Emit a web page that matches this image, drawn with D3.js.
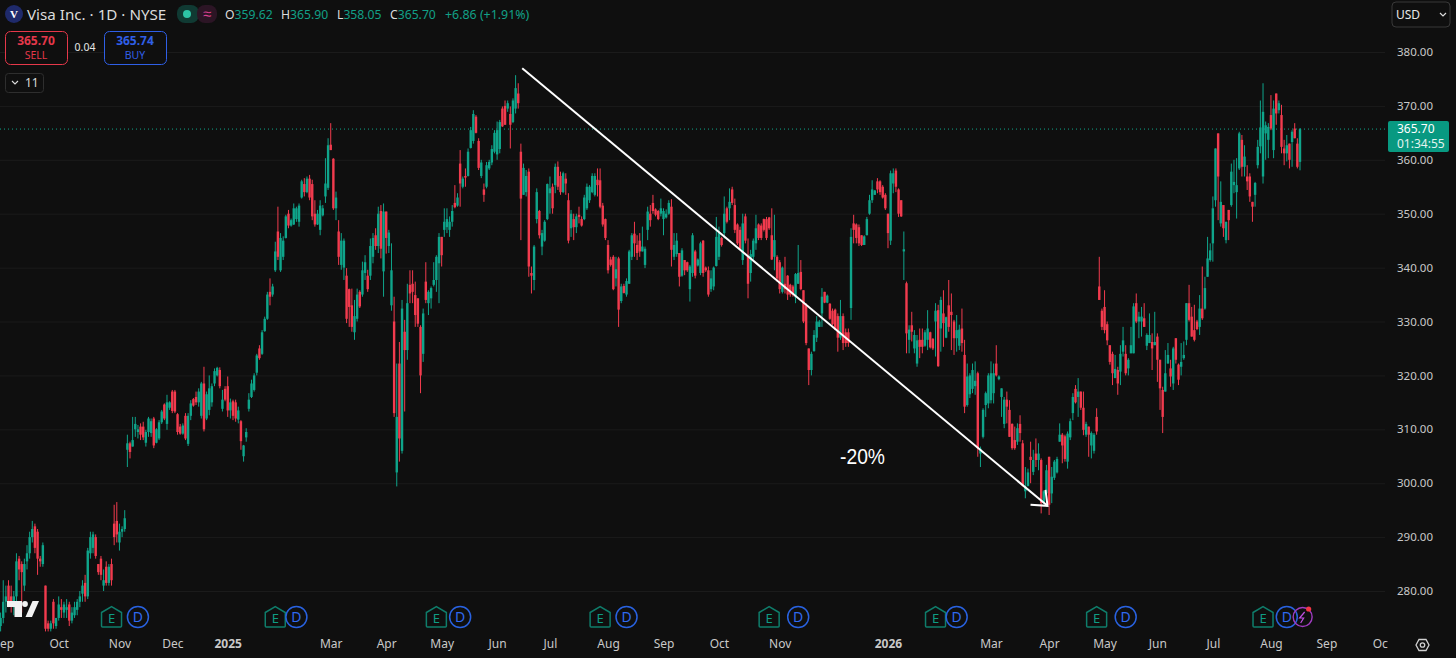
<!DOCTYPE html>
<html>
<head>
<meta charset="utf-8">
<script src="https://cdn.jsdelivr.net/npm/d3@7"></script>
<style>
  html, body { margin: 0; padding: 0; background: #0f0f0f; overflow: hidden; }
  text { font-family: "Noto Sans", sans-serif; }
</style>
</head>
<body>
<div id="d3-container"></div>
<script>
/* CONSTANTS */
const width = 1456, height = 658, plotRight = 1385, plotBottom = 630;
const upColor = "#0fa58b", downColor = "#f23b4e", gridColor = "#1b1b1b", axisText = "#c9c9c9";

/* DATA: daily candles [open, high, low, close], month by month */
const sep24 = [[273.5,276,272.5,275],[275,282,274,278],[278,281,276,279],[281,282,277,278],[279,281,276,277.5],[277,280,275.5,279],[279,287,278,285.5],[286,286.5,282,284],[285,285.5,276,283.5],[281,286,280,285],[285.5,288.5,284,287],[287,291,286,290],[290,293,289,291.5],[292,292.5,287,288],[291,291.5,283,286],[286,286.5,284.5,285.5],[285,289,284.5,288.5],[281,281,272.5,273],[274,274.5,272.5,273],[273,274.5,272.5,274],[278,278.5,273,274],[273.5,275,273,275]];
const oct24 = [[275,279,274.5,277.5],[277,278.5,275,276.5],[276,278,275,277.5],[276.5,278.5,275,277],[277.5,278,273.5,274.5],[274.5,277,274,276],[275.5,278,275,277],[276.5,278.5,275.5,278],[278,280,277,279],[279.5,282,278,281],[281.5,283,278,279],[279,288,278.5,287.5],[287,291,286,290],[288,291,287,290.5],[290,290.5,286,286.5],[285,285,283,283.5],[286,286.5,282,283],[281,284,280,282],[284.5,285.5,281,281.5],[281.5,285,281,284.5],[285,286,281,282],[292.5,296,288.5,290],[293,296.5,289,290.5]];
const nov24 = [[289,292.5,287.5,291],[291,292,290,291.5],[291.5,295,291,293.5],[306.2,309,303,307.4],[307.4,307.7,304.6,305.8],[306.8,312.3,306.8,308],[310,312.3,308.6,311],[309.5,310.8,308.3,310],[310.5,311.1,308,309],[310.5,311.4,308,308.5],[307.5,309.9,306.8,309.5],[309.5,312.3,308.6,312],[309.3,312,308.6,311.5],[312,312.3,306.5,307],[307.5,310.2,307.4,310],[308.3,311.7,308,311.3],[311.3,313.6,311,313.3],[314.6,314.8,311.7,312],[311,316.4,309.9,315],[314,315.2,313.6,315]];
const dec24 = [[317,317.3,313,313.4],[317,317.3,313,313.3],[312.8,313,309,309.5],[310.5,311,309,309.2],[309.2,311.1,309,310.7],[312.5,313,308,308.3],[307.3,313,306.9,312.5],[312.5,315.4,311.7,314.8],[315.6,315.8,314.2,314.4],[316,317,314.5,315],[315,317.6,314.2,317],[312.5,318.8,312,318.5],[318.5,321.6,309.6,310],[312,317,311.7,316.5],[313.6,320,312.6,317.6],[315,318.5,314.2,318],[318.5,321.3,318,320.8],[320,321.6,319.8,321.4],[321,321.5,317.6,318],[313.8,317.3,313.3,315.5],[317.5,318,315.2,315.5]];
const jan25 = [[318,319.8,312.3,313.5],[313.5,315.7,312,315],[315.2,315.5,311.7,312.5],[315,315.5,311.4,312],[311.8,314.2,311.1,313.5],[311.5,311.7,306.2,307.8],[305,307.1,304,307],[308.5,310.2,307.7,309.5],[313.8,316.7,313.3,315.5],[316,319.2,315.8,318.5],[317.3,320.4,317,320],[320.5,324,320,323.7],[325,325.6,322.9,323.2],[324,328.4,323.8,328],[328.2,330.9,328.1,330.5],[330.5,335.5,330.3,335],[335.5,338,333,334.6],[335,337,334.6,336.5],[339.5,344.8,339.2,343],[346.7,351.3,341.4,342]];
const feb25 = [[339.5,346.4,339.2,345.5],[342,345.8,341.4,345],[345.5,349.8,345.4,349.5],[350,350.7,347.3,347.8],[347.8,349.1,347.6,348.8],[348,351.9,347.9,351],[349,351.3,348.5,351],[348.5,351.9,347.6,351.5],[353,356.3,352.8,356],[355.5,356.6,353.2,354],[354,356.9,353.8,356.5],[356.5,357.2,352.5,353],[355.5,356.3,348.8,349.5],[350,352.5,347.6,348],[348,350.7,347.9,350],[347,352.5,346,351.5],[349.7,351.6,349.5,351],[353.2,360.3,352,355.6],[354.8,364,354.4,362.7]];
const mar25 = [[362.8,366.8,361.8,361.8],[360.2,360.3,350.7,351],[351,354.1,348.8,353],[346.7,348.8,340.5,342],[340.5,346.4,339.6,345],[340,345.4,337.7,345],[338.5,339.9,329.7,330.5],[336,336.1,329,332.7],[333,336.1,328.1,329],[328,334,326.6,331],[330.5,336.1,330,335],[335.5,335.8,332.5,332.8],[335,341.1,334.6,339.5],[339,342.3,337.7,341],[338.5,339.6,335.5,336],[338.5,345.4,337.7,344],[342,346.4,340.8,345.5],[346,347.3,343.3,344],[344,351.3,342.7,350],[350.5,351.6,341.7,343.5],[339.3,351.9,334.6,350.4]];
const apr25 = [[350.4,350.4,342.6,345.5],[344,347,342.7,346.5],[333,344.5,332,339.5],[330,334.6,312.3,313],[302,322.2,299.4,312.3],[322.2,326.2,304,308.3],[306,334,305.5,332.4],[328.1,330.3,313.3,324.7],[324.7,337,322.9,333.4],[336.8,339.5,333.4,335.2],[337,339.5,333.4,335.5],[334.9,337.4,329,331.2],[334.3,334.3,329,329.6],[329,329.3,316.7,320],[324,332.4,322.5,331.5],[337.4,341,333.4,334],[333.4,335.8,331.2,335.5],[334.3,336.5,332.4,336.2],[336.8,341,336.5,337.7],[337.7,342.3,335.5,342],[340.8,346.4,333.4,345.7]];
const may25 = [[345.7,345.7,340.2,342.3],[347,351,345.7,348.5],[347.5,351,346.4,349],[347,349.5,345.7,348.5],[348.5,351.6,347.6,350.5],[352,355.3,351,351.2],[351.5,353.8,351.3,353],[359.3,361.8,351.3,355.6],[355,356.9,354.7,356.5],[357,358.4,355,356.7],[357,362.1,356.9,361.5],[362.2,366.1,362.1,365.5],[363.5,369.2,363,368.5],[368,368.3,364.9,365],[363.5,364,358.1,358.5],[357,360,356.6,359.5],[354.5,355.6,352.2,353.5],[355,359.6,354.7,359],[358.4,360,358.1,359.6],[359.5,362.7,359,362],[361.5,365.5,361.2,365]];
const jun25 = [[361,367.1,360,365.5],[362,367.4,361.2,367],[369.5,369.9,366.1,366.2],[370,371,366.5,366.5],[369.5,371,368.9,370.5],[368.5,369.9,362.1,366.5],[367,371.4,366.8,371],[369.5,375.7,368.6,373.3],[372.3,374.2,369.5,370.5],[361.5,363,345.1,352.8],[353.5,359.3,353.5,358.5],[354,358.1,353.2,357],[357.8,358.4,338.3,340.2],[339,340.2,335.2,338.5],[337.7,344.2,335.8,343.9],[349,354.7,348.2,354],[350.5,350.7,345.4,346],[343.9,347,342.3,346.4],[345,348.8,344.8,348.5],[349,355.6,348.8,355.5]];
const jul25 = [[353.8,356.9,350,354.7],[355,355.6,350,351],[355.3,359.3,353.8,358.7],[358.7,359.7,354.4,355],[357,357.8,353.5,354],[354,357.8,353.8,357.5],[356.5,357.5,353.5,355.6],[352.5,353.8,344.5,345],[347.3,350.7,345.7,350],[349,350,345.1,347.5],[347.5,350,346.4,349.5],[349.8,351.3,348.2,349.4],[349,349.5,347.6,347.8],[349,353.5,348.8,353],[351,355.6,350.7,355],[352.5,355.3,352,355],[354,357.5,353.8,357],[353.5,357.5,353.2,357],[356.3,358.4,353.2,355.3],[356.2,358.4,351,351.3],[351.5,352,347.6,348],[349,349.1,345.1,345.5]];
const aug25 = [[344.2,345.1,338.9,339.5],[341.5,342,340.2,340.5],[342,342.3,335.8,336],[338,342,336.5,339.7],[341.7,342,329,332.2],[333.8,337,333.4,336.5],[336.6,337,335.2,335.3],[335,338,334.6,337.5],[337,343.3,337,343],[342,346.4,341.4,346],[346.3,348.5,342,344.5],[344.2,346,341.4,342.7],[345,346.4,342,343],[343,347.6,343,343.9],[340.5,343.9,339.9,343.5],[347,351.3,345.1,350.4],[350,351.6,347.6,348.8],[352,353.5,350,350.5],[350.8,351,349.5,349.8],[350.5,350.7,348.8,349],[350,352.8,349.5,351]];
const sep25 = [[349,351,346,350.5],[349.3,350.8,349.1,350],[350,352.5,349.8,352],[351.3,352.7,340.2,343.3],[342,346.4,341.4,344.2],[342.5,346.4,342,345],[342.7,342.7,336.5,338.3],[338.5,343.6,338.3,343.2],[341.4,341.4,338.6,339.5],[341,341.1,339.2,339.5],[336,340.5,333.7,340.2],[339,346.4,338.3,346],[343,343.3,338,338.5],[340.4,341.7,340.2,341.5],[339,344.8,338.6,344.5],[345,345.1,338.3,339],[340,340.2,339.2,339.5],[339.5,340.2,334.6,335],[336,339.5,335.5,338],[336.5,340.2,335.8,340],[340.3,349.4,340.2,345.7]];
const oct25 = [[342,347.6,341.4,346.5],[345.5,345.7,343.9,344.2],[346.4,353.2,345.4,350],[351,351.3,348.2,348.5],[351,354.7,348.8,352.2],[354.5,355,351.6,352],[351.6,352.8,346.4,347],[348,348.2,344.2,344.5],[347,347.6,343.3,343.5],[341.4,350,340.5,348.2],[349.5,350,344.5,345],[342,345.4,334.3,337],[339,343.3,337.4,342.5],[342,345.4,341.4,345],[344.5,349.8,343.3,347.3],[348,348.2,345.1,345.5],[347.8,348.2,345.1,345.5],[349,349.1,346.7,347],[349,349.4,345.1,345.5],[349.3,349.4,347,347.3],[346,351,341.4,341.5],[342,349.8,339.5,345.1],[342,342.3,337.4,338]];
const nov25 = [[341,341.4,335.2,336],[335.5,340.2,335.2,340],[337,342,335.2,336],[338.5,338.6,334,335],[336.8,337,334.6,335],[336.5,336.8,334.6,335],[334.5,339,333.4,338.8],[337,344.2,337,339],[339.2,341.4,335.8,336],[335.8,335.8,329.7,330],[333,333.4,325.6,326],[325,325,318.2,321],[321,324.4,320,324],[324.5,328.4,324.4,327.5],[327,331,326.2,330],[329,330.3,329,330],[331.5,336.2,329,334.6],[335.5,335.5,333.4,333.5],[333.5,335,333.4,334.8]];
const dec25 = [[333.3,333.4,330.3,330.5],[332,332.4,329.3,329.5],[332.2,332.4,328.4,328.5],[331,331.5,324.4,327],[327,334,326.6,331],[331,331.5,324.7,326],[328,328.7,325.3,326],[328,328.7,325.3,326],[332.5,347.3,330.3,345.7],[348.2,349.8,344.5,347],[348,348.2,344.5,345.5],[347.5,348,344,344.5],[346,346,344,344.2],[344.2,346,344.2,345.8],[346,349.4,346,349],[350,353.5,349.8,352.5],[352.5,356.2,352,354.5],[353.5,354.4,353.5,354.3],[356,356.6,353.8,354.5],[356,356.2,353.5,354],[355,355.3,352.8,353],[353.5,353.8,350.7,351]];
const jan26 = [[350,350,343.6,346.4],[345,358,344.2,357.5],[355.6,358.4,353.8,357.5],[358,358.4,354,355],[354.5,354.7,349.4,350],[352.5,352.5,349.4,349.5],[343,346.7,337.7,343.4],[337.1,337.4,324.1,327.8],[326.6,329.3,324.1,328.5],[329.3,331.8,326.3,328.1],[325,328.4,324.1,327.5],[322.2,327.5,321.6,326.5],[326.6,328.7,323.2,325.3],[326.6,328.7,324.1,325.3],[325.5,328.4,325.3,328],[326.6,332.1,324.7,328.7],[328,328.1,325,325.2],[326.8,326.9,324.7,325],[330,333.4,323.5,332],[332.1,333.1,321.6,321.7]];
const feb26 = [[328.7,334.6,324.4,334],[331.5,335.8,325.3,329.7],[327,330.9,326.9,330.8],[333,337.7,328.1,329],[331.8,335.2,324.7,331.2],[330,330.3,323.8,326.9],[326.9,331.2,324.4,328.4],[325.5,329.4,324.7,328.5],[328.7,332.4,324.4,326],[323.8,326.6,313,314.2],[314.5,322.2,314.2,319.8],[316.5,320.4,315.8,320],[317.5,322.2,316.7,321],[318,322.6,316.4,319],[320.4,320.7,304.9,306.5],[305.5,306.8,303,306.4],[308.6,313.9,308.3,313.6],[314.5,317,312.3,316.7],[314.8,320.4,313.9,320]];
const mar26 = [[315.4,322.6,314.8,320.4],[316.7,322.2,314.8,320.4],[322.2,325.6,319.8,320],[319.3,320,319.1,319.8],[316,317.6,312.3,317.6],[311,316,310.2,315.5],[315.5,317,311.1,314.2],[313.6,315.4,308.6,308.6],[311,311.1,306.2,306.5],[308,310.5,306.2,306.5],[307.7,311.1,307.1,310.2],[311,312.6,307.7,309.3],[307.4,308,299.4,299.5],[298.5,303,297.2,299.4],[299.5,302.7,299.4,302],[304.9,307.7,300,304.3],[302.1,306.2,301.5,304.3],[305.5,308.3,303,304.3],[304.3,307.4,302.4,305.5],[304.3,304.6,294.4,296.3],[296.5,298.7,296.3,298.5],[298.1,303.4,295.7,302.4]];
const apr26 = [[304.9,304.9,294.1,296],[298.1,303,296.3,301.2],[301,304.3,300.6,304],[302,304.9,301.8,304.5],[307.7,311.1,307.7,309],[309,309.3,303.7,307],[308.7,309,304,304.5],[304,309.6,302.7,309.2],[308.5,312,308,311.5],[313,316.7,311.7,316],[317.5,318.2,314.8,315],[316,319.5,312.3,317],[317,317,313.6,314],[314,317,308.9,309.9],[309,311.4,308.6,311],[310.5,310.5,304.9,309],[307,309.6,304.6,309.3],[306,309.3,305.5,309],[312.3,313.9,309,309.6],[336.5,342,334,334],[332,332.4,328.4,329]];
const may26 = [[332.7,335.8,327.8,328.4],[329.5,330,325.6,326.5],[325.6,325.6,322,322.5],[324,324.4,318.2,320.4],[319.5,323.8,319.5,321.2],[321,321.6,316.4,318.5],[320.7,325.6,318.2,324],[324.4,329,323.5,326.5],[324,325.6,320,320.4],[321.3,323.2,320,322.9],[324.1,329,324.1,325.6],[324.1,333.4,324.1,332.8],[333.4,335.2,329.7,330],[330,331.8,326.9,330.9],[330,332.7,327.2,330.9],[330.6,333.4,329,329],[325.5,327.8,324.7,327.5],[326,331.5,326,327.5],[326.2,327.8,321,325],[325.6,331.8,325.6,326.2]];
const jun26 = [[327.2,327.8,318.8,322.9],[322.9,322.9,313.6,317.6],[317.3,317.9,309.3,312.3],[317,324.7,317,320.4],[322.2,326,322.2,323.8],[321.3,322.9,317.9,319.8],[318.5,325.3,317.3,325],[326.9,326.9,322.2,322.9],[322,322.2,318.2,319.2],[321.6,326,320,322.5],[323.2,326.3,322.9,323.8],[326.6,333.4,325.6,333.4],[333.4,336.8,330,330.3],[330.9,332.7,327.2,327.2],[328.4,333.1,326.3,326.6],[330,330.3,328.4,328.6],[329,334.9,327.5,332.4],[332.4,340.2,330.3,330.6],[332.4,338.3,332.2,336.2],[338.3,345.7,338.3,341.7],[341.4,344.5,341.1,343.2]];
const jul26 = [[344.5,353.2,341.1,351],[352.5,362.1,351.3,362.1],[364.9,364.9,348.8,356.9],[348.2,356,347.6,352.2],[351.6,351.6,345.7,347.3],[345.1,348.5,344.5,348.5],[350.7,350.7,345.1,348.8],[351.6,359.3,351.3,357.8],[355.3,360,353.8,355.9],[354,360.3,349.1,355.3],[358.4,365.2,358.1,364.9],[363.7,364.6,356.9,358.7],[358.7,362.7,356.9,360.6],[356.9,359,354.4,356],[356.9,357.5,352.2,353.2],[352.2,352.2,348.5,351.3],[353.5,355.9,351.3,355.7],[359,363.7,358.4,362.4],[362.5,371,361.2,366],[356.9,374.2,355.6,368.9],[364.9,367.1,360,366.4],[363.7,366.8,360.3,366.1]];
const aug26 = [[368.3,372,365.5,365.8],[361.8,371,360.3,369.5],[372.3,372.3,366.5,368.6],[369.2,371,368.6,370.5],[368.3,370.2,361.2,362.4],[362.1,363.7,359,361.2],[361.2,364.6,359.7,362.7],[363,363,358.4,360],[363.3,365.5,358.7,365.2],[365.8,366.8,364,364],[363,364,358.4,358.7],[359.62,365.9,358.05,365.7]];
const monthArrays = [sep24, oct24, nov24, dec24, jan25, feb25, mar25, apr25, may25, jun25, jul25, aug25, sep25, oct25, nov25, dec25, jan26, feb26, mar26, apr26, may26, jun26, jul26, aug26];

const priceTicks = [380, 370, 360, 350, 340, 330, 320, 310, 300, 290, 280];
const timeLabels = ["Sep", "Oct", "Nov", "Dec", "2025", "Mar", "Apr", "May", "Jun", "Jul", "Aug", "Sep", "Oct", "Nov", "2026", "Mar", "Apr", "May", "Jun", "Jul", "Aug", "Sep", "Oct"];
const timeBars = [1, 22, 45, 65, 86, 125, 146, 167, 188, 208, 230, 251, 272, 295, 336, 375, 397, 418, 438, 459, 481, 502, 523];
const earningsBars = [42, 104, 165, 227, 291, 354, 415, 478];
const dividendBars = [52, 112, 174, 237, 302, 362, 426, 487];
const splitBar = 493;
const lastPrice = 365.70;
const legendOhlc = [["O", "359.62", 225], ["H", "365.90", 281], ["L", "358.05", 337], ["C", "365.70", 390]];

// the drawn trend arrow, in bar index and price
const trendFrom = { bar: 197.5, price: 377 };
const trendTo = { bar: 396.4, price: 295.8 };

const candles = monthArrays.flat().map((d, i) => ({ i, open: d[0], high: d[1], low: d[2], close: d[3] }));

/* SCALES */
const xScale = d3.scaleLinear().domain([0, 492]).range([0.6, 1300]);
const yScale = d3.scaleLinear().domain([380, 280]).range([52, 591]);

const svg = d3.select("#d3-container").append("svg")
  .attr("width", width).attr("height", height)
  .style("display", "block").style("background", "#0f0f0f");

svg.append("clipPath").attr("id", "time-clip").append("rect")
  .attr("x", 0).attr("y", 0).attr("width", 1388).attr("height", height);

/* AXES + GRID */
const yAxis = d3.axisRight(yScale).tickValues(priceTicks)
  .tickFormat(d3.format(".2f")).tickSize(-plotRight).tickPadding(12);
const yG = svg.append("g").attr("transform", `translate(${plotRight},0)`).call(yAxis);
yG.select(".domain").remove();
yG.selectAll("line").attr("stroke", gridColor);
yG.selectAll("text").attr("fill", axisText).attr("font-size", 11.5);

const xAxis = d3.axisBottom(xScale).tickValues(timeBars)
  .tickFormat((d, i) => timeLabels[i]).tickSize(-plotBottom).tickPadding(9);
const xG = svg.append("g").attr("transform", `translate(0,${plotBottom})`)
  .attr("clip-path", "url(#time-clip)").call(xAxis);
xG.select(".domain").remove();
xG.selectAll("line").attr("stroke", gridColor);
xG.selectAll("text").attr("fill", axisText).attr("font-size", 12)
  .attr("font-weight", (d, i) => /^20/.test(timeLabels[i]) ? 700 : 400);

/* LAST PRICE LINE */
svg.append("line")
  .attr("x1", 0).attr("x2", plotRight)
  .attr("y1", yScale(lastPrice)).attr("y2", yScale(lastPrice))
  .attr("stroke", upColor).attr("stroke-dasharray", "1 3");

/* CANDLES */
const candle = svg.append("g").selectAll("g").data(candles).join("g")
  .attr("fill", d => d.close >= d.open ? upColor : downColor)
  .attr("stroke", d => d.close >= d.open ? upColor : downColor);
candle.append("line")
  .attr("x1", d => xScale(d.i)).attr("x2", d => xScale(d.i))
  .attr("y1", d => yScale(d.high)).attr("y2", d => yScale(d.low))
  .attr("stroke-width", 1);
candle.append("rect")
  .attr("x", d => xScale(d.i) - 1.2).attr("width", 2.4)
  .attr("y", d => yScale(Math.max(d.open, d.close)))
  .attr("height", d => Math.max(1, Math.abs(yScale(d.open) - yScale(d.close))))
  .attr("stroke", "none");

/* TREND ARROW */
const ax = xScale(trendFrom.bar), ay = yScale(trendFrom.price);
const bx = xScale(trendTo.bar), by = yScale(trendTo.price);
svg.append("line").attr("x1", ax).attr("y1", ay).attr("x2", bx).attr("y2", by)
  .attr("stroke", "#fff").attr("stroke-width", 2);
svg.append("path").attr("d", `M${bx - 17},${by - 1}L${bx},${by}L${bx - 2},${by - 16}`)
  .attr("fill", "none").attr("stroke", "#fff").attr("stroke-width", 2);
svg.append("text").attr("x", 840).attr("y", 464)
  .attr("fill", "#fff").attr("font-size", 22)
  .attr("textLength", 45).attr("lengthAdjust", "spacingAndGlyphs")
  .style("font-family", '"Liberation Sans", "Noto Sans", sans-serif').text("-20%");

/* EVENT MARKERS */
const eventY = 617;
const earn = svg.append("g").selectAll("g").data(earningsBars).join("g")
  .attr("transform", d => `translate(${xScale(d)},${eventY})`);
earn.append("path").attr("d", "M-10,-4.5L0,-10.5L10,-4.5V9Q10,10 9,10H-9Q-10,10 -10,9Z")
  .attr("fill", "#0f0f0f").attr("stroke", "#0f7d6b").attr("stroke-width", 1.5);
earn.append("text").attr("y", 5.5).attr("text-anchor", "middle").attr("font-size", 13)
  .attr("fill", "#0f9c84").text("E");
const div = svg.append("g").selectAll("g").data(dividendBars).join("g")
  .attr("transform", d => `translate(${xScale(d)},${eventY})`);
div.append("circle").attr("r", 10.5).attr("fill", "#0f0f0f")
  .attr("stroke", "#2962e0").attr("stroke-width", 1.5);
div.append("text").attr("y", 5).attr("text-anchor", "middle").attr("font-size", 14)
  .attr("fill", "#2f6af0").text("D");
const split = svg.append("g").attr("transform", `translate(${xScale(splitBar)},${eventY})`);
split.append("circle").attr("r", 9.5).attr("fill", "none").attr("stroke", "#a03cc0").attr("stroke-width", 1.4);
split.append("path").attr("d", "M2,-5L-3,1H1L-2,6").attr("fill", "none").attr("stroke", "#c050e0").attr("stroke-width", 1.2);
split.append("circle").attr("cx", 6).attr("cy", -8).attr("r", 2.6).attr("fill", "#f23645");

/* TRADINGVIEW LOGO */
const logo = svg.append("g").attr("fill", "#f2f2f2");
logo.append("path").attr("d", "M7,601H22V617H14.5V607H7Z");
logo.append("circle").attr("cx", 25).attr("cy", 604).attr("r", 2.9);
logo.append("path").attr("d", "M32.5,601H39L32,617H25.5Z");

/* PRICE AXIS BADGE */
const badge = svg.append("g");
badge.append("rect").attr("x", 1388).attr("y", 121).attr("width", 61).attr("height", 31)
  .attr("rx", 2).attr("fill", "#089981");
badge.append("text").attr("x", 1397).attr("y", 133).attr("fill", "#fff").attr("font-size", 12).text(lastPrice.toFixed(2));
badge.append("text").attr("x", 1397).attr("y", 148).attr("fill", "#e4f4f0").attr("font-size", 12).text("01:34:55");

/* USD SELECT */
svg.append("rect").attr("x", 1392).attr("y", 2).attr("width", 58).attr("height", 25).attr("rx", 4)
  .attr("fill", "#0f0f0f").attr("stroke", "#383838");
svg.append("text").attr("x", 1396).attr("y", 19).attr("fill", "#e8e8e8").attr("font-size", 12).text("USD");
svg.append("path").attr("d", "M1440,13L1443,16L1446,13").attr("fill", "none").attr("stroke", "#ddd").attr("stroke-width", 1.2);

/* SETTINGS ICON */
svg.append("path").attr("d", "M1416,645L1419,639.5H1426L1429,645L1426,650.5H1419Z")
  .attr("fill", "none").attr("stroke", "#d0d0d0").attr("stroke-width", 1.3);
svg.append("circle").attr("cx", 1422.5).attr("cy", 645).attr("r", 2.2)
  .attr("fill", "none").attr("stroke", "#d0d0d0").attr("stroke-width", 1.3);

/* HEADER */
const head = svg.append("g");
head.append("circle").attr("cx", 14).attr("cy", 14).attr("r", 9).attr("fill", "#1f2a6b");
head.append("text").attr("x", 14).attr("y", 18).attr("text-anchor", "middle").attr("fill", "#fff")
  .attr("font-size", 11).attr("font-weight", 700).style("font-family", "'Liberation Serif', serif").text("V");
head.append("text").attr("x", 27).attr("y", 20).attr("fill", "#dcdcdc").attr("font-size", 15.2).text("Visa Inc. · 1D · NYSE");
head.append("rect").attr("x", 177).attr("y", 5).attr("width", 22).attr("height", 18).attr("rx", 8).attr("fill", "#103a33");
head.append("rect").attr("x", 197).attr("y", 5).attr("width", 20).attr("height", 18).attr("rx", 8).attr("fill", "#2c1525");
head.append("circle").attr("cx", 187).attr("cy", 14).attr("r", 4).attr("fill", "#2dc3a5");
head.append("text").attr("x", 207).attr("y", 19).attr("text-anchor", "middle").attr("fill", "#d9408f").attr("font-size", 15).text("≈");
legendOhlc.forEach(([k, v, x]) => {
  const t = head.append("text").attr("x", x).attr("y", 19).attr("font-size", 12.2);
  t.append("tspan").attr("fill", "#dcdcdc").text(k);
  t.append("tspan").attr("fill", "#12a087").text(v);
});
head.append("text").attr("x", 445).attr("y", 19).attr("font-size", 12.4).attr("fill", "#12a087").text("+6.86 (+1.91%)");

// sell / buy buttons
[["365.70", "SELL", 5, "#e5384a"], ["365.74", "BUY", 104, "#2f5fe6"]].forEach(([p, lbl, x, col]) => {
  head.append("rect").attr("x", x + 0.5).attr("y", 31.5).attr("width", 62).attr("height", 33).attr("rx", 5)
    .attr("fill", "#0f0f0f").attr("stroke", col);
  head.append("text").attr("x", x + 31).attr("y", 45).attr("text-anchor", "middle").attr("fill", col)
    .attr("font-size", 12).attr("font-weight", 700).text(p);
  head.append("text").attr("x", x + 31).attr("y", 59).attr("text-anchor", "middle").attr("fill", col)
    .attr("font-size", 10.5).text(lbl);
});
head.append("text").attr("x", 85).attr("y", 51).attr("text-anchor", "middle").attr("fill", "#e6e6e6").attr("font-size", 10.5).text("0.04");

// collapsed indicators button
head.append("rect").attr("x", 5.5).attr("y", 73.5).attr("width", 38).attr("height", 19).attr("rx", 3)
  .attr("fill", "#0f0f0f").attr("stroke", "#2e2e2e");
head.append("path").attr("d", "M12,81L15,84L18,81").attr("fill", "none").attr("stroke", "#ddd").attr("stroke-width", 1.1);
head.append("text").attr("x", 25).attr("y", 87).attr("fill", "#dcdcdc").attr("font-size", 12).text("11");
</script>
</body>
</html>
